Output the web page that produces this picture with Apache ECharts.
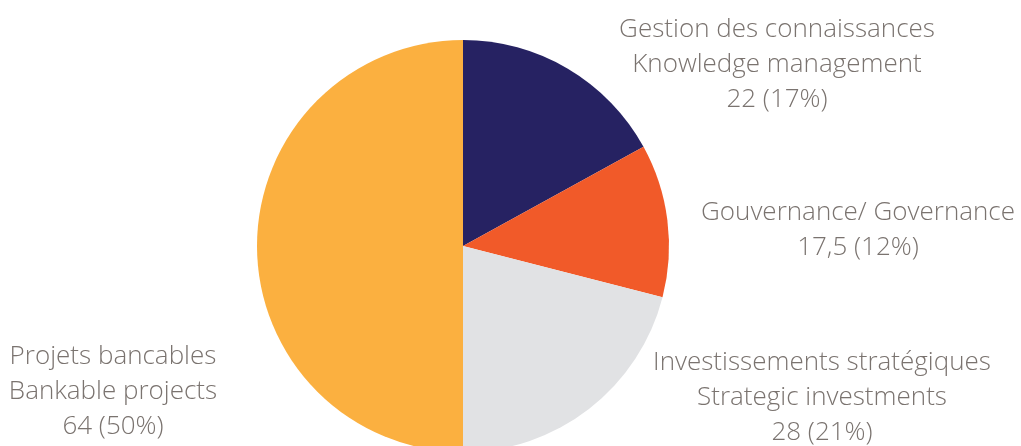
<!DOCTYPE html>
<html>
<head>
<meta charset="UTF-8">
<title>Pie</title>
<script src="https://cdn.jsdelivr.net/npm/echarts@6/dist/echarts.min.js"></script>
<style>
html,body{margin:0;padding:0;background:#fff;}
#chart{width:1021px;height:446px;}
</style>
</head>
<body>
<div id="chart"></div>
<script type="text/javascript">
// categories (French / English), amounts and shares as printed
var namesFr = ['Gestion des connaissances', 'Gouvernance/ Governance', 'Investissements stratégiques', 'Projets bancables'];
var namesEn = ['Knowledge management', '', 'Strategic investments', 'Bankable projects'];
var amounts = ['22', '17,5', '28', '64'];
var shares = [17, 12, 21, 50];
var colors = ['#262262', '#f15a29', '#e1e2e4', '#fbb040'];

// where each label sits (centre of the text block)
var labelPos = [[777, 65], [858, 230], [822, 398], [113, 392]];

var data = [];
for (var i = 0; i < shares.length; i++) {
	data.push({
		name: namesFr[i],
		value: shares[i],
		itemStyle: {color: colors[i]}
	});
}

var mychart = echarts.init(document.getElementById('chart'));
var option = {
	animation: false,
	series: [{
		type: 'pie',
		center: [463, 246],
		radius: 206,
		startAngle: 90,
		clockwise: true,
		silent: true,
		itemStyle: {borderWidth: 0},
		labelLine: {show: false},
		label: {
			show: true,
			position: 'outside',
			overflow: 'none',
			fontFamily: 'Open Sans',
			fontWeight: 300,
			fontSize: 26,
			lineHeight: 35,
			color: '#7a736f',
			align: 'center',
			formatter: function (p) {
				var i = p.dataIndex;
				var lines = [namesFr[i]];
				if (namesEn[i]) lines.push(namesEn[i]);
				lines.push(amounts[i] + ' (' + shares[i] + '%)');
				return lines.join('\n');
			}
		},
		labelLayout: function (params) {
			var p = labelPos[params.dataIndex];
			return {x: p[0], y: p[1], align: 'center', verticalAlign: 'middle'};
		},
		data: data
	}]
};
mychart.setOption(option);
</script>
</body>
</html>
